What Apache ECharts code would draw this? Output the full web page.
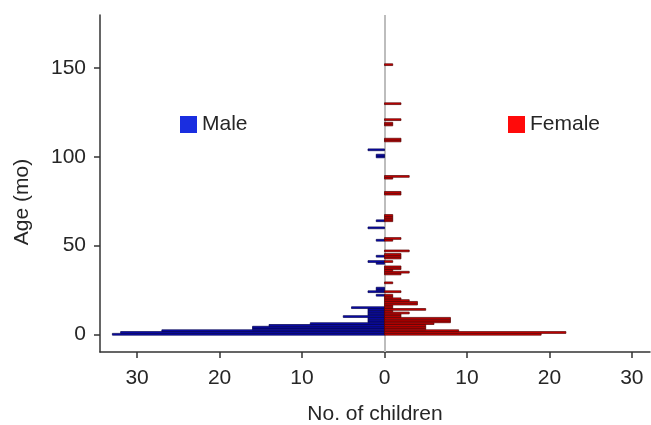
<!DOCTYPE html>
<html>
<head>
<meta charset="utf-8">
<script src="https://cdn.jsdelivr.net/npm/echarts@6/dist/echarts.min.js"></script>
<style>html,body{margin:0;padding:0;background:#fff}#c{width:651px;height:425px}</style>
</head>
<body>
<div id="c"></div>
<script>
const maleAges   = [0, 1, 2, 3, 4, 5, 6, 7, 8, 9, 10, 11, 12, 13, 14, 15, 22, 24, 25, 26, 40, 41, 44, 53, 60, 64, 100, 101, 104];
const maleCounts = [33, 32, 27, 16, 16, 14, 9, 2, 2, 2, 5, 2, 2, 2, 2, 4, 1, 2, 1, 1, 1, 2, 1, 1, 2, 1, 1, 1, 2];
const femaleAges   = [0, 1, 2, 3, 4, 5, 6, 7, 8, 9, 10, 11, 12, 13, 14, 15, 16, 17, 18, 19, 20, 21, 22, 24, 29, 34, 35, 36, 37, 38, 41, 43, 44, 45, 47, 53, 54, 64, 65, 66, 67, 79, 80, 88, 89, 109, 110, 118, 119, 121, 130, 152];
const femaleCounts = [19, 22, 9, 5, 5, 5, 6, 8, 8, 8, 2, 2, 3, 1, 5, 1, 1, 4, 4, 3, 2, 1, 1, 2, 1, 2, 3, 1, 2, 2, 1, 2, 2, 2, 3, 1, 2, 1, 1, 1, 1, 2, 2, 1, 3, 2, 2, 1, 1, 2, 2, 1];
const xTickValues = [-30, -20, -10, 0, 10, 20, 30];
const yTickValues = [0, 50, 100, 150];

const maleData = maleAges.map((a, i) => [-maleCounts[i], a]);
const femaleData = femaleAges.map((a, i) => [femaleCounts[i], a]);

function makeRender(fill, stroke) {
  return function (params, api) {
    const v = api.value(0), age = api.value(1);
    const p0 = api.coord([0, age - 0.5]);
    const p1 = api.coord([v, age + 0.5]);
    const x = Math.min(p0[0], p1[0]), y = Math.min(p0[1], p1[1]);
    return {
      type: 'rect',
      shape: { x: x, y: y, width: Math.abs(p1[0] - p0[0]), height: Math.abs(p1[1] - p0[1]) },
      style: { fill: fill, stroke: stroke, lineWidth: 0.7 }
    };
  };
}

const font = 'Liberation Sans, Arial, sans-serif';
const txt = '#262626';
const chart = echarts.init(document.getElementById('c'), null, { renderer: 'canvas' });
chart.setOption({
  animation: false,
  textStyle: { fontFamily: font },
  grid: { left: 100, right: 1, top: 15, bottom: 73, containLabel: false, outerBoundsMode: 'none' },
  legend: [
    { data: ['Male'], left: 175, top: 109, icon: 'rect', itemWidth: 17, itemHeight: 17, itemGap: 9,
      textStyle: { fontSize: 21, color: txt, fontFamily: font } },
    { data: ['Female'], left: 503, top: 109, icon: 'rect', itemWidth: 17, itemHeight: 17, itemGap: 9,
      textStyle: { fontSize: 21, color: txt, fontFamily: font } }
  ],
  graphic: [
    { type: 'text', x: 22, y: 202, rotation: Math.PI / 2,
      style: { text: 'Age (mo)', fontSize: 21, fill: txt, fontFamily: font, align: 'center', verticalAlign: 'middle' } }
  ],
  xAxis: {
    type: 'value', min: -34.5, max: 32.2,
    name: 'No. of children', nameLocation: 'middle', nameGap: 52,
    nameTextStyle: { fontSize: 21, color: txt, fontFamily: font },
    axisLine: { show: true, onZero: false, lineStyle: { color: '#333', width: 1.5 } },
    axisTick: { show: true, customValues: xTickValues, length: 6, lineStyle: { color: '#333', width: 1.5 } },
    axisLabel: { customValues: xTickValues, fontSize: 21, color: txt, margin: 16,
      formatter: v => String(Math.abs(v)) },
    splitLine: { show: false }
  },
  yAxis: {
    type: 'value', min: -10, max: 180,
    axisLine: { show: true, onZero: false, lineStyle: { color: '#333', width: 1.5 } },
    axisTick: { show: true, customValues: yTickValues, length: 6, lineStyle: { color: '#333', width: 1.5 } },
    axisLabel: { customValues: yTickValues, fontSize: 21, color: txt, margin: 14 },
    splitLine: { show: false }
  },
  series: [
    { name: 'Male', type: 'custom', data: maleData, itemStyle: { color: '#1a2ee0' },
      encode: { x: 0, y: 1 }, renderItem: makeRender('#0c0cb4', '#00004a'),
      markLine: { silent: true, symbol: 'none', label: { show: false }, z: 1,
        lineStyle: { color: '#bdbdbd', width: 2, type: 'solid' }, data: [{ xAxis: 0 }] },
      z: 3 },
    { name: 'Female', type: 'custom', data: femaleData, itemStyle: { color: '#ff0a0a' },
      encode: { x: 0, y: 1 }, renderItem: makeRender('#d00000', '#500000'), z: 3 }
  ]
});
</script>
</body>
</html>
